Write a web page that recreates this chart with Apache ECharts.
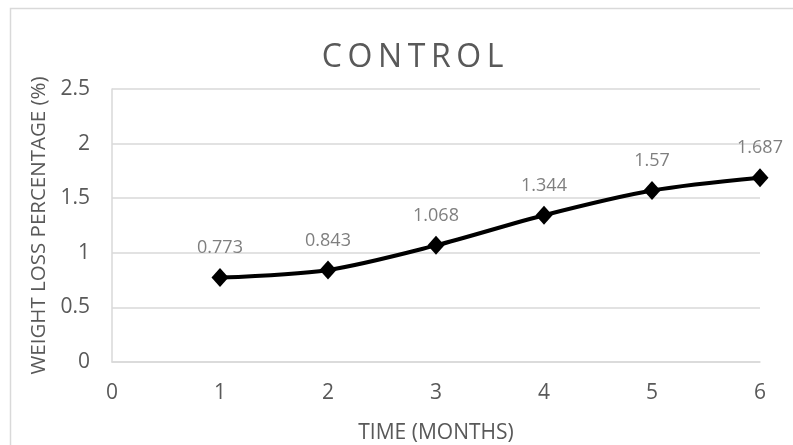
<!DOCTYPE html>
<html>
<head>
<meta charset="utf-8">
<style>
  html, body { margin: 0; padding: 0; background: #ffffff; }
  #chart { width: 793px; height: 445px; }
</style>
<script src="https://cdn.jsdelivr.net/npm/echarts@6/dist/echarts.min.js"></script>
</head>
<body>
<div id="chart"></div>
<script>
// Weight loss of the control group over six months
const chartTitle = 'CONTROL';
const months = [1, 2, 3, 4, 5, 6];
const weightLoss = [0.773, 0.843, 1.068, 1.344, 1.57, 1.687];
const xTicks = [0, 1, 2, 3, 4, 5, 6];
const yTicks = [0, 0.5, 1, 1.5, 2, 2.5];

const chart = echarts.init(document.getElementById('chart'), null, { renderer: 'canvas' });
const font = '"Open Sans", "Noto Sans", sans-serif';

// Spread the title letters apart with per-letter padding
const spacedTitle = chartTitle.split('').map(ch => '{l|' + ch + '}').join('');

chart.setOption({
  animation: false,
  backgroundColor: '#ffffff',
  graphic: [{
    type: 'rect',
    shape: { x: 10.5, y: 8.5, width: 800, height: 450 },
    style: { fill: 'none', stroke: '#d9d9d9', lineWidth: 1.5 },
    silent: true
  }],
  title: {
    text: spacedTitle,
    left: 314,
    top: 37,
    textStyle: {
      fontFamily: font,
      fontSize: 32,
      fontWeight: 'normal',
      color: '#595959',
      rich: {
        l: {
          fontFamily: font,
          fontSize: 32,
          color: '#595959',
          padding: [0, 2.8]
        }
      }
    }
  },
  grid: { left: 112, right: 33, top: 89, bottom: 83, outerBoundsMode: 'none', containLabel: false },
  xAxis: {
    type: 'value',
    min: xTicks[0],
    max: xTicks[xTicks.length - 1],
    interval: 1,
    name: 'TIME (MONTHS)',
    nameLocation: 'middle',
    nameGap: 61,
    nameTextStyle: { fontFamily: font, fontSize: 21, color: '#595959' },
    axisLine: { show: true, lineStyle: { color: '#d9d9d9', width: 1.5 } },
    axisTick: { show: false },
    splitLine: { show: false },
    axisLabel: {
      fontFamily: font, fontSize: 21, color: '#595959', margin: 21,
      formatter: v => String(v)
    }
  },
  yAxis: {
    type: 'value',
    min: yTicks[0],
    max: yTicks[yTicks.length - 1],
    interval: 0.5,
    name: 'WEIGHT LOSS PERCENTAGE (%)',
    nameLocation: 'middle',
    nameGap: 45,
    nameTextStyle: { fontFamily: font, fontSize: 20.5, color: '#595959' },
    axisLine: { show: true, lineStyle: { color: '#d9d9d9', width: 1.5 } },
    axisTick: { show: false },
    splitLine: { show: true, lineStyle: { color: '#d9d9d9', width: 1.5 } },
    axisLabel: {
      fontFamily: font, fontSize: 21, color: '#595959', margin: 22,
      formatter: v => String(v)
    }
  },
  series: [{
    type: 'line',
    data: months.map((m, i) => [m, weightLoss[i]]),
    smooth: 0.3,
    symbol: 'diamond',
    symbolSize: [17, 19],
    lineStyle: { color: '#000000', width: 4 },
    itemStyle: { color: '#000000' },
    label: {
      show: true,
      position: 'top',
      distance: 11,
      fontFamily: font,
      fontSize: 18,
      color: '#7f7f7f',
      formatter: p => String(p.value[1])
    }
  }]
});
</script>
</body>
</html>
